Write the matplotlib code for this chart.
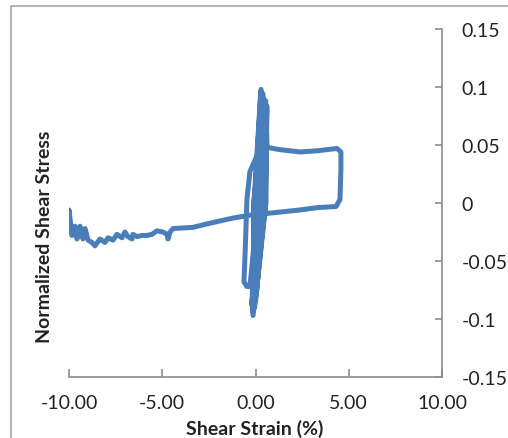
import matplotlib.pyplot as plt
from matplotlib.patches import Rectangle

plt.rcParams['font.family'] = ['Lato', 'DejaVu Sans']
plt.rcParams['axes.unicode_minus'] = False

# ====== Data ======
# cyclic part: bottom tip, then top tip of every cycle
cycle_bottom_x = [-0.13, -0.05, 0.00, 0.05, -0.10, -0.20, -0.02, 0.08, -0.15, 0.02]
cycle_bottom_y = [-0.097, -0.090, -0.085, -0.078, -0.092, -0.088, -0.082, -0.070, -0.094, -0.075]
cycle_top_x = [0.30, 0.40, 0.55, 0.62, 0.50, 0.45, 0.35, 0.60, 0.28, 0.58]
cycle_top_y = [0.098, 0.094, 0.088, 0.083, 0.086, 0.090, 0.095, 0.080, 0.096, 0.084]
cycle_up_mid_x = [0.42, 0.50, 0.56, 0.52, 0.45, 0.38, 0.30, 0.48, 0.25, 0.54]
cycle_down_mid_x = [-0.05, 0.05, 0.12, 0.00, -0.10, 0.08, 0.15, 0.02, -0.08, 0.20]

# loop on the left of the spindle
left_loop_x = [0.00, -0.30, -0.46, -0.55, -0.62, -0.46, -0.30, -0.10, 0.15, 0.40, 0.60]
left_loop_y = [0.038, 0.027, 0.003, -0.040, -0.068, -0.072, -0.072, -0.040, 0.000, 0.040, 0.060]

# large loop to the right, then the run to -10 %
tail_x = [0.62, 1.30, 2.39, 3.30, 4.37, 4.58, 4.58, 4.53, 4.32, 3.30, 2.39, 0.62,
          -0.13, -1.21, -2.60, -3.35, -4.42, -4.58, -4.69, -4.75, -4.96, -5.28,
          -5.55, -5.82, -6.09, -6.35, -6.57, -6.62, -6.84, -7.00, -7.16, -7.43,
          -7.64, -7.91, -8.07, -8.34, -8.61, -8.77, -8.98, -9.14, -9.25, -9.41,
          -9.57, -9.68, -9.84, -10.00, -10.00]
tail_y = [0.048, 0.046, 0.044, 0.045, 0.047, 0.044, 0.029, 0.003, -0.003, -0.004,
          -0.006, -0.009, -0.010, -0.013, -0.018, -0.021, -0.022, -0.025, -0.031,
          -0.027, -0.025, -0.024, -0.027, -0.028, -0.028, -0.029, -0.027, -0.031,
          -0.029, -0.025, -0.030, -0.027, -0.032, -0.030, -0.034, -0.031, -0.037,
          -0.034, -0.032, -0.022, -0.031, -0.020, -0.031, -0.020, -0.028, -0.006,
          -0.025]

# ====== Build the path ======
strain = [0.0]
stress = [0.0]
for i in range(len(cycle_top_x)):
    # loading branch
    strain += [cycle_up_mid_x[i], cycle_top_x[i]]
    stress += [0.0, cycle_top_y[i]]
    # unloading branch
    strain += [cycle_down_mid_x[i], cycle_bottom_x[i]]
    stress += [0.0, cycle_bottom_y[i]]
strain += [0.30, 0.45]
stress += [0.0, 0.050]
strain += left_loop_x + tail_x
stress += left_loop_y + tail_y

# ====== Figure ======
fig = plt.figure(figsize=(5.08, 4.39), dpi=100)
ax = fig.add_axes([69 / 508, 1 - 378 / 439, 373 / 508, 348 / 439])

ax.plot(strain, stress, color='#4a7ebb', lw=3.6, solid_joinstyle='round',
        solid_capstyle='round')

ax.set_xlim(-10, 10)
ax.set_ylim(-0.15, 0.15)
ax.set_xticks([-10, -5, 0, 5, 10])
ax.set_xticklabels(['-10.00', '-5.00', '0.00', '5.00', '10.00'])
ax.set_yticks([-0.15, -0.1, -0.05, 0, 0.05, 0.1, 0.15])
ax.set_yticklabels(['-0.15', '-0.1', '-0.05', '0', '0.05', '0.1', '0.15'])

grey = '#8c8c8c'
ax.spines['left'].set_visible(False)
ax.spines['top'].set_visible(False)
ax.spines['right'].set_color(grey)
ax.spines['bottom'].set_color(grey)
ax.spines['right'].set_linewidth(1.2)
ax.spines['bottom'].set_linewidth(1.2)
ax.yaxis.tick_right()
ax.tick_params(axis='y', direction='in', length=5, color=grey, width=1.2,
               pad=14, labelsize=14, labelcolor='#222222')
ax.tick_params(axis='x', direction='in', length=6, color=grey, width=1.2,
               pad=12, labelsize=14, labelcolor='#222222')

fig.text(255 / 508, 1 - 429 / 439, 'Shear Strain (%)', fontsize=14,
         fontweight='bold', color='#222222', ha='center', va='center')
fig.text(45 / 508, 1 - 237 / 439, 'Normalized Shear Stress', rotation=90,
         fontsize=14, fontweight='bold', color='#222222',
         ha='center', va='center')

# outer chart border (cut off at right and bottom)
fig.add_artist(Rectangle((11 / 508, -0.5), 2, 0.5 + 1 - 7 / 439,
                         transform=fig.transFigure, fill=False,
                         edgecolor='#a6a6a6', lw=1.2))

fig.savefig('out.png', dpi=100)
